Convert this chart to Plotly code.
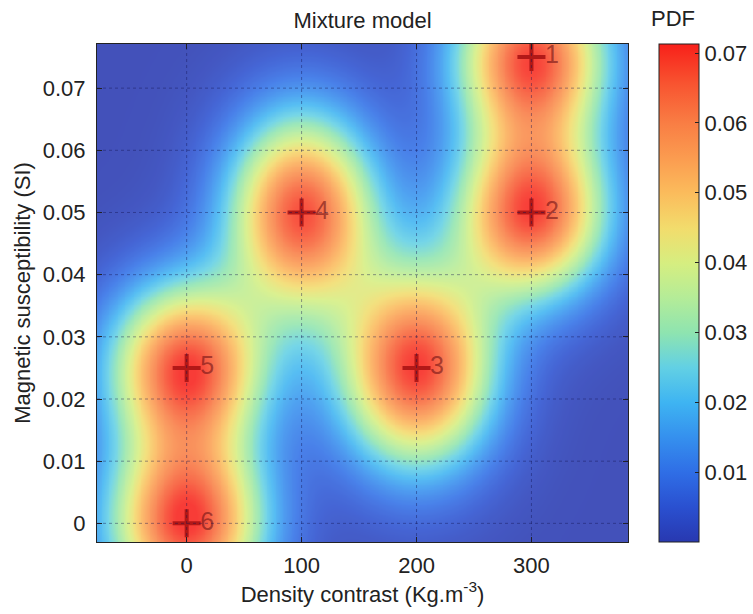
import numpy as np
import plotly.graph_objects as go

# ---- data ----
comp_labels = ["1", "2", "3", "4", "5", "6"]
comp_density = [300, 300, 200, 100, 0, 0]            # Kg.m^-3
comp_suscept = [0.075, 0.05, 0.025, 0.05, 0.025, 0.0]  # SI
comp_peak = [0.068, 0.068, 0.0705, 0.068, 0.069, 0.070]
comp_sigma_density = [46, 46, 47, 45, 47, 47]
comp_sigma_suscept = [0.0096, 0.0096, 0.0112, 0.0112, 0.0096, 0.0096]

x_ticks = [0, 100, 200, 300]
y_ticks = [0, 0.01, 0.02, 0.03, 0.04, 0.05, 0.06, 0.07]
y_tick_text = ["0", "0.01", "0.02", "0.03", "0.04", "0.05", "0.06", "0.07"]
cb_ticks = [0.01, 0.02, 0.03, 0.04, 0.05, 0.06, 0.07]

x_range = [-78, 384]
y_range = [-0.003, 0.0771]
z_range = [0.0, 0.0713]

# ---- mixture surface evaluated on a grid ----
gx = np.linspace(x_range[0], x_range[1], 300)
gy = np.linspace(y_range[0], y_range[1], 300)
X, Y = np.meshgrid(gx, gy)
Z = np.zeros_like(X)
for mx, my, a, sx, sy in zip(comp_density, comp_suscept, comp_peak,
                             comp_sigma_density, comp_sigma_suscept):
    Z += a * np.exp(-0.5 * (((X - mx) / sx) ** 2 + ((Y - my) / sy) ** 2))

colorscale = [
    [0.00, "#2838b0"],
    [0.07, "#2a50d0"],
    [0.14, "#2f6ee6"],
    [0.21, "#3590ee"],
    [0.28, "#3eb4f2"],
    [0.35, "#62d0e4"],
    [0.42, "#8ee4b0"],
    [0.49, "#b4ec98"],
    [0.56, "#d6ee80"],
    [0.63, "#f2dc6c"],
    [0.70, "#fbbc5c"],
    [0.77, "#fb9c50"],
    [0.84, "#f97e44"],
    [0.92, "#f85430"],
    [1.00, "#f8201a"],
]

FONT = "Liberation Sans, Arial, sans-serif"

fig = go.Figure()
fig.add_trace(go.Heatmap(
    x=gx, y=gy, z=Z,
    zmin=z_range[0], zmax=z_range[1],
    colorscale=colorscale,
    opacity=0.87,
    zsmooth="best",
    colorbar=dict(
        x=1.058, xanchor="left", xpad=0,
        y=0.5, yanchor="middle", len=1.0, lenmode="fraction", ypad=0,
        thickness=40, thicknessmode="pixels",
        outlinewidth=1, outlinecolor="#222",
        tickvals=cb_ticks, ticktext=["%.2f" % v for v in cb_ticks],
        ticks="inside", ticklen=4, tickcolor="#222",
        tickfont=dict(family=FONT, size=22, color="#222"),
    ),
    showscale=True,
    hoverinfo="skip",
))

fig.add_trace(go.Scatter(
    x=comp_density, y=comp_suscept,
    mode="markers+text",
    text=comp_labels,
    textposition="middle right",
    textfont=dict(family=FONT, size=25, color="rgba(120,25,25,0.65)"),
    marker=dict(symbol="cross-thin", size=20,
                line=dict(width=4, color="rgba(170,20,20,0.9)"),
                color="rgba(170,20,20,0.9)"),
    showlegend=False,
    cliponaxis=False,
    hoverinfo="skip",
))

shapes = []
for xv in x_ticks:
    shapes.append(dict(type="line", xref="x", yref="paper", x0=xv, x1=xv, y0=0, y1=1,
                       line=dict(color="rgba(20,20,80,0.42)", width=1, dash="dot"),
                       layer="above"))
for yv in y_ticks:
    shapes.append(dict(type="line", xref="paper", yref="y", x0=0, x1=1, y0=yv, y1=yv,
                       line=dict(color="rgba(20,20,80,0.42)", width=1, dash="dot"),
                       layer="above"))

fig.update_layout(
    width=753, height=614,
    margin=dict(l=97, r=125, t=44, b=72, autoexpand=False),
    paper_bgcolor="white", plot_bgcolor="white",
    font=dict(family=FONT, size=22, color="#222"),
    title=dict(text="Mixture model", x=(97 + 628) / 2 / 753, xanchor="center",
               y=1 - 20 / 614, yanchor="middle",
               font=dict(family=FONT, size=22, color="#222")),
    shapes=shapes,
    annotations=[dict(text="PDF", xref="paper", yref="paper",
                      x=(673 - 97) / 531, y=1 + 26 / 498, xanchor="center", yanchor="middle",
                      showarrow=False, font=dict(family=FONT, size=22, color="#222"))],
    xaxis=dict(
        range=x_range, tickvals=x_ticks, ticktext=[str(v) for v in x_ticks],
        showgrid=False, zeroline=False, automargin=False,
        showline=True, linecolor="#222", linewidth=1, mirror="ticks",
        ticks="inside", ticklen=5, tickcolor="#222",
        ticklabelstandoff=4,
        title=dict(text="Density contrast (Kg.m<sup>-3</sup>)", standoff=4,
                   font=dict(family=FONT, size=22, color="#222")),
        layer="above traces",
    ),
    yaxis=dict(
        range=y_range, tickvals=y_ticks, ticktext=y_tick_text,
        showgrid=False, zeroline=False, automargin=False,
        showline=True, linecolor="#222", linewidth=1, mirror="ticks",
        ticks="inside", ticklen=5, tickcolor="#222",
        ticklabelstandoff=6,
        title=dict(text="Magnetic susceptibility (SI)", standoff=6,
                   font=dict(family=FONT, size=22, color="#222")),
        layer="above traces",
    ),
)

fig.write_html("out.html", config={"displayModeBar": False},
               post_script="document.body.style.margin='0px';")
